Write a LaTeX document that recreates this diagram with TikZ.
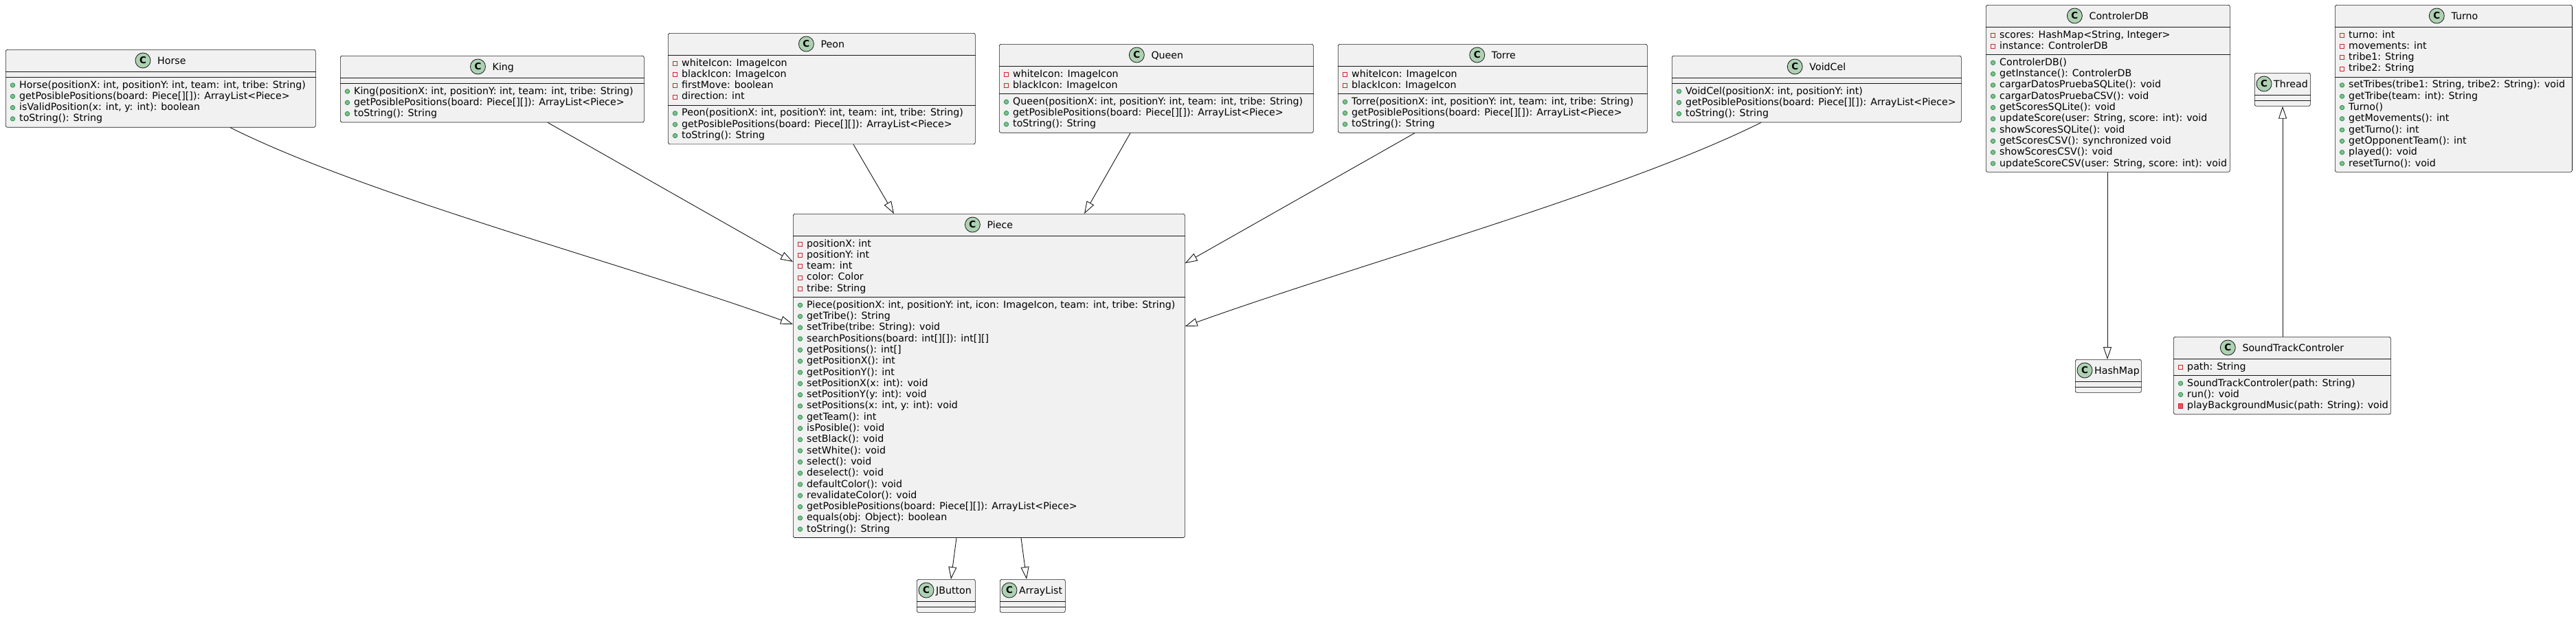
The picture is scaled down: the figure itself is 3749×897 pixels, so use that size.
\documentclass[tikz,border=0pt]{standalone}
\usepackage{fontspec}
\setmainfont{DejaVu Sans}
\usepackage{tikz}
\usetikzlibrary{arrows.meta,calc,positioning}
\definecolor{umlfill}{HTML}{F1F1F1}
\definecolor{umlline}{HTML}{181818}
\definecolor{cfill}{HTML}{ADD1B2}
\definecolor{privred}{HTML}{C82930}
\definecolor{privfill}{HTML}{F24D5C}
\definecolor{pubgreen}{HTML}{038048}
\definecolor{pubfill}{HTML}{84BE84}
\tikzset{
  umlbox/.style={draw=umlline,fill=umlfill,line width=0.7pt,rounded corners=2.5pt,inner sep=0pt,anchor=north west},
  divider/.style={draw=umlline,line width=0.7pt},
  member/.style={anchor=base west,inner sep=0pt,font=\fontsize{14.2}{16.3}\selectfont},
  classtitle/.style={inner sep=0pt,text height=10.5pt,text depth=0pt,font=\fontsize{14.2}{16.3}\selectfont},
  cicon/.style={circle,draw=umlline,fill=cfill,line width=0.8pt,minimum size=22pt,inner sep=0pt,font=\bfseries\fontsize{13.5}{13.5}\selectfont},
  icona/.style={rectangle,draw=privred,line width=0.8pt,minimum size=6pt,inner sep=0pt},
  iconm/.style={circle,draw=pubgreen,fill=pubfill,line width=0.6pt,minimum size=6.5pt,inner sep=0pt},
  iconx/.style={rectangle,draw=privred,fill=privfill,line width=0.6pt,minimum size=6.5pt,inner sep=0pt},
  extends/.style={draw=umlline,line width=0.9pt,-{Triangle[open,length=18pt,width=12pt]}}
}
% class box: name, x, y, width, #fields, #methods
\newcommand\umlclass[6]{%
  \pgfmathsetmacro\secA{ifthenelse(#5==0,8,(#5-1)*16.3+24)}%
  \pgfmathsetmacro\secM{ifthenelse(#6==0,8,(#6-1)*16.3+24)}%
  \pgfmathsetmacro\boxH{32+\secA+\secM}%
  \node[umlbox,minimum width=#4pt,minimum height=\boxH pt] (#1) at (#2,#3) {};
  \draw[divider] ([yshift=-32pt]#1.north west) -- ([yshift=-32pt]#1.north east);
  \draw[divider] ([yshift=-32pt-\secA pt]#1.north west) -- ([yshift=-32pt-\secA pt]#1.north east);
  \node[classtitle] (#1-title) at ([xshift=16pt,yshift=-16pt]#1.north) {#1};
  \node[cicon] at ([xshift=-21pt]#1-title.west) {C};
}
% class with empty body: name, x, y, width
\newcommand\umlstub[4]{%
  \node[umlbox,minimum width=#4pt,minimum height=48pt] (#1) at (#2,#3) {};
  \draw[divider] ([yshift=-32pt]#1.north west) -- ([yshift=-32pt]#1.north east);
  \draw[divider] ([yshift=-40pt]#1.north west) -- ([yshift=-40pt]#1.north east);
  \node[cicon] (#1-c) at ([xshift=14pt,yshift=-16pt]#1.north west) {C};
  \node[classtitle,anchor=west] at ([xshift=2.5pt]#1-c.east) {#1};
}
\newcommand\umlfields[2]{%
  \foreach \txt [count=\idx from 0] in {#2}{
    \path ([xshift=10.5pt,yshift=-44pt-\idx*16.3pt]#1.north west) node[icona] {}
          ([xshift=20pt,yshift=-48pt-\idx*16.3pt]#1.north west) node[member] {\txt};
  }}
\newcommand\umlops[3]{%
  \pgfmathsetmacro\opsstart{32+ifthenelse(#2==0,8,(#2-1)*16.3+24)+12}%
  \foreach \vis/\txt [count=\idx from 0] in {#3}{
    \path ([xshift=10.5pt,yshift=-\opsstart pt-\idx*16.3pt]#1.north west) node[icon\vis] {}
          ([xshift=20pt,yshift=-\opsstart pt-\idx*16.3pt-4pt]#1.north west) node[member] {\txt};
  }}

\begin{document}
\begin{tikzpicture}[x=1pt,y=-1pt]
  \path[use as bounding box,fill=white] (0,0) rectangle (3749,897);

  \umlclass{Horse}{8}{72}{451}{0}{4}
  \umlops{Horse}{0}{m/{Horse(positionX: int, positionY: int, team: int, tribe: String)},
    m/{getPosiblePositions(board: Piece[][]): ArrayList<Piece>},
    m/{isValidPosition(x: int, y: int): boolean},
    m/{toString(): String}}

  \umlclass{King}{495}{81}{442}{0}{3}
  \umlops{King}{0}{m/{King(positionX: int, positionY: int, team: int, tribe: String)},
    m/{getPosiblePositions(board: Piece[][]): ArrayList<Piece>},
    m/{toString(): String}}

  \umlclass{Peon}{972}{48}{447}{4}{3}
  \umlfields{Peon}{whiteIcon: ImageIcon, blackIcon: ImageIcon, firstMove: boolean, direction: int}
  \umlops{Peon}{4}{m/{Peon(positionX: int, positionY: int, team: int, tribe: String)},
    m/{getPosiblePositions(board: Piece[][]): ArrayList<Piece>},
    m/{toString(): String}}

  \umlclass{Queen}{1454}{64}{457}{2}{3}
  \umlfields{Queen}{whiteIcon: ImageIcon, blackIcon: ImageIcon}
  \umlops{Queen}{2}{m/{Queen(positionX: int, positionY: int, team: int, tribe: String)},
    m/{getPosiblePositions(board: Piece[][]): ArrayList<Piece>},
    m/{toString(): String}}

  \umlclass{Torre}{1947}{64}{450}{2}{3}
  \umlfields{Torre}{whiteIcon: ImageIcon, blackIcon: ImageIcon}
  \umlops{Torre}{2}{m/{Torre(positionX: int, positionY: int, team: int, tribe: String)},
    m/{getPosiblePositions(board: Piece[][]): ArrayList<Piece>},
    m/{toString(): String}}

  \umlclass{VoidCel}{2433}{81}{421}{0}{3}
  \umlops{VoidCel}{0}{m/{VoidCel(positionX: int, positionY: int)},
    m/{getPosiblePositions(board: Piece[][]): ArrayList<Piece>},
    m/{toString(): String}}

  \umlclass{Piece}{1154}{311}{570}{5}{21}
  \umlfields{Piece}{positionX: int, positionY: int, team: int, color: Color, tribe: String}
  \umlops{Piece}{5}{m/{Piece(positionX: int, positionY: int, icon: ImageIcon, team: int, tribe: String)},
    m/{getTribe(): String}, m/{setTribe(tribe: String): void},
    m/{searchPositions(board: int[][]): int[][]}, m/{getPositions(): int[]},
    m/{getPositionX(): int}, m/{getPositionY(): int},
    m/{setPositionX(x: int): void}, m/{setPositionY(y: int): void},
    m/{setPositions(x: int, y: int): void}, m/{getTeam(): int},
    m/{isPosible(): void}, m/{setBlack(): void}, m/{setWhite(): void},
    m/{select(): void}, m/{deselect(): void}, m/{defaultColor(): void},
    m/{revalidateColor(): void},
    m/{getPosiblePositions(board: Piece[][]): ArrayList<Piece>},
    m/{equals(obj: Object): boolean}, m/{toString(): String}}

  \umlstub{JButton}{1334}{843}{85}
  \umlstub{ArrayList}{1455}{843}{95}

  \umlclass{ControlerDB}{2890}{7}{355}{2}{10}
  \umlfields{ControlerDB}{{scores: HashMap<String, Integer>}, instance: ControlerDB}
  \umlops{ControlerDB}{2}{m/{ControlerDB()}, m/{getInstance(): ControlerDB},
    m/{cargarDatosPruebaSQLite(): void}, m/{cargarDatosPruebaCSV(): void},
    m/{getScoresSQLite(): void}, m/{updateScore(user: String, score: int): void},
    m/{showScoresSQLite(): void}, m/{getScoresCSV(): synchronized void},
    m/{showScoresCSV(): void}, m/{updateScoreCSV(user: String, score: int): void}}

  \umlstub{HashMap}{3020}{523}{96}
  \umlstub{Thread}{3281}{106}{81}

  \umlclass{Turno}{3398}{7}{345}{4}{8}
  \umlfields{Turno}{turno: int, movements: int, tribe1: String, tribe2: String}
  \umlops{Turno}{4}{m/{setTribes(tribe1: String, tribe2: String): void},
    m/{getTribe(team: int): String}, m/{Turno()}, m/{getMovements(): int},
    m/{getTurno(): int}, m/{getOpponentTeam(): int}, m/{played(): void},
    m/{resetTurno(): void}}

  \umlclass{SoundTrackControler}{3163}{490}{316}{1}{3}
  \umlfields{SoundTrackControler}{path: String}
  \umlops{SoundTrackControler}{1}{m/{SoundTrackControler(path: String)},
    m/{run(): void}, x/{playBackgroundMusic(path: String): void}}

  % inheritance
  \draw[extends] ([xshift=327pt]Horse.south west) .. controls +(200,100) and +(-250,-90) .. ([yshift=-161pt]Piece.north west);
  \draw[extends] ([xshift=302pt]King.south west) -- ([yshift=-70pt]Piece.north west);
  \draw[extends] ([xshift=270pt]Peon.south west) -- ([xshift=147pt]Piece.north west);
  \draw[extends] ([xshift=191pt]Queen.south west) -- ([xshift=424pt]Piece.north west);
  \draw[extends] ([xshift=112pt]Torre.south west) -- ([yshift=-72pt]Piece.north east);
  \draw[extends] ([xshift=130pt]VoidCel.south west) .. controls +(-200,100) and +(250,-90) .. ([yshift=-164pt]Piece.north east);
  \draw[extends] ([xshift=238pt]Piece.south west) -- ([xshift=50pt]JButton.north west);
  \draw[extends] ([xshift=332pt]Piece.south west) -- ([xshift=39pt]ArrayList.north west);
  \draw[extends] ([xshift=177pt]ControlerDB.south west) -- ([xshift=47pt]HashMap.north west);
  \draw[extends] ([xshift=159pt]SoundTrackControler.north west) -- ([xshift=41pt]Thread.south west);
\end{tikzpicture}
\end{document}
